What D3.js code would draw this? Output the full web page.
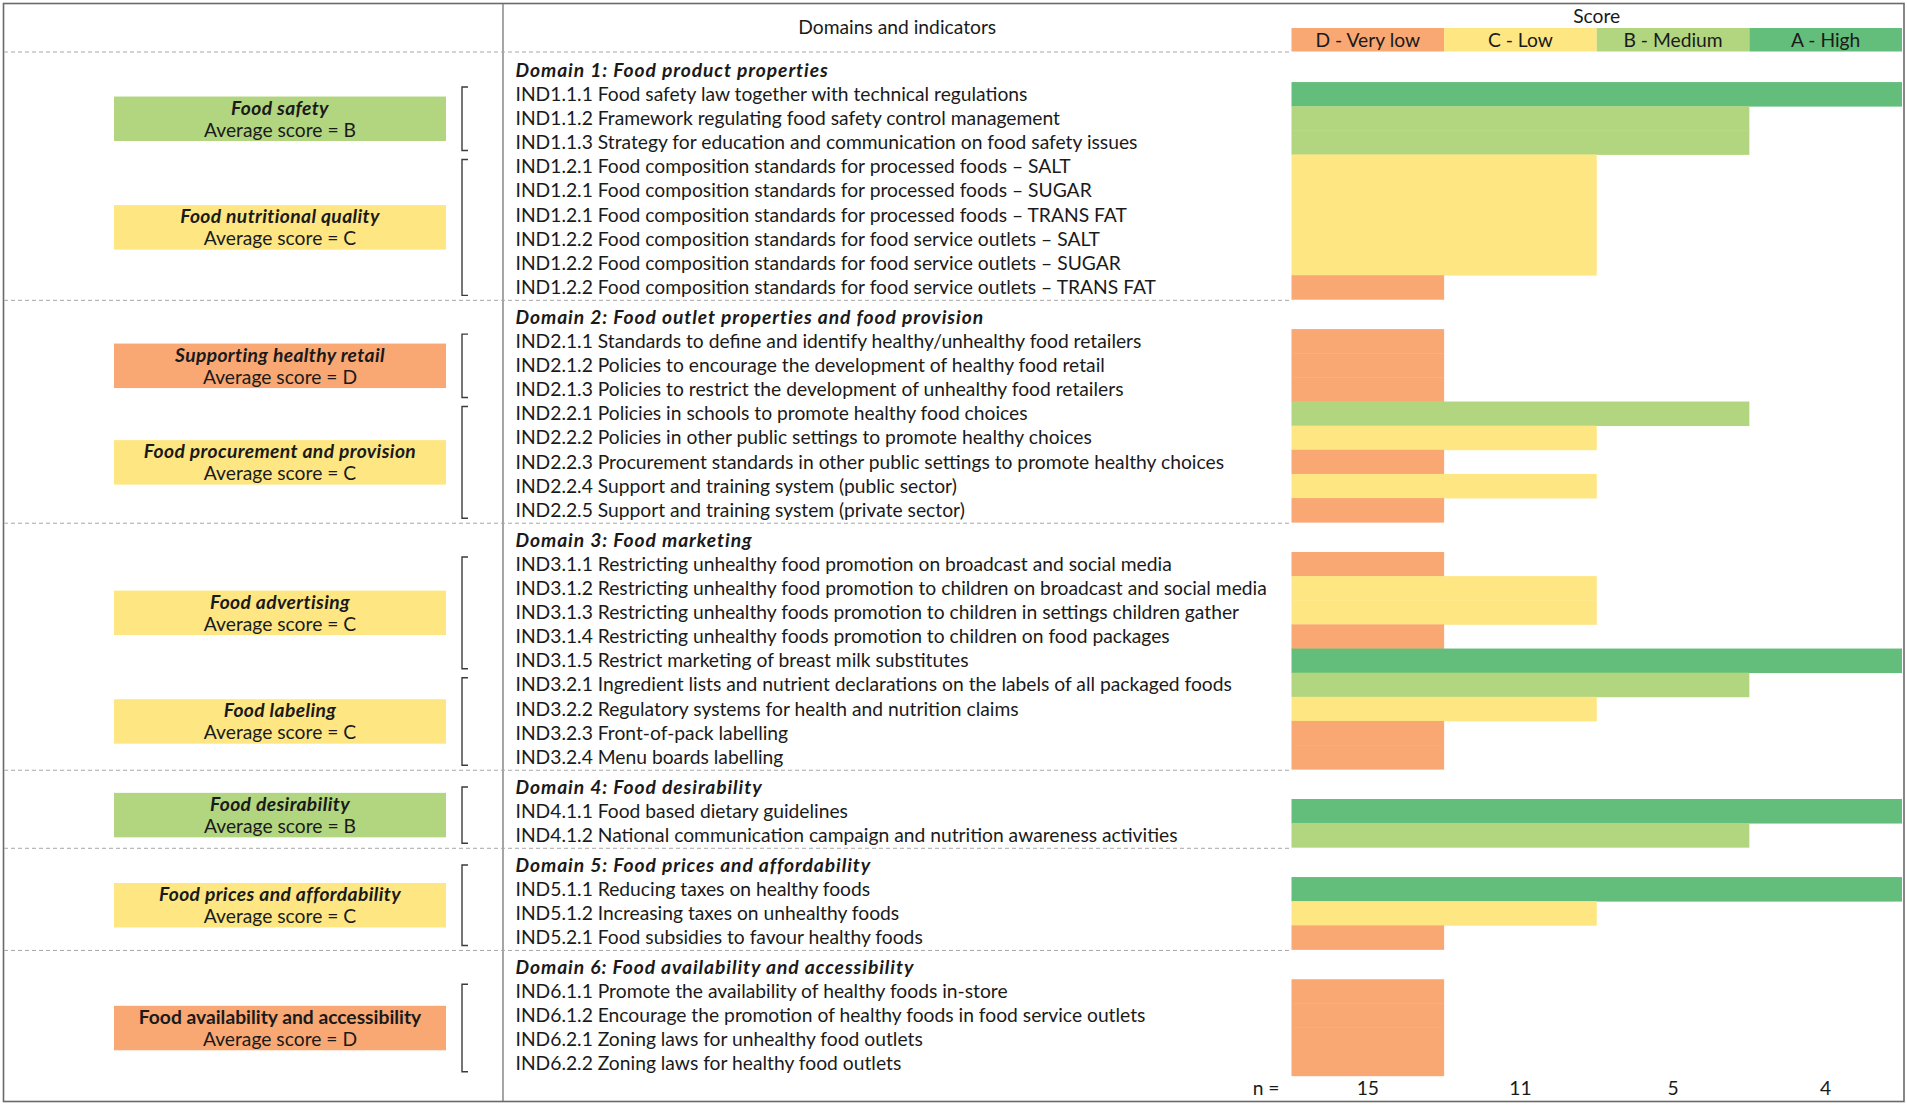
<!DOCTYPE html>
<html>
<head>
<meta charset="utf-8">
<script src="https://cdn.jsdelivr.net/npm/d3@7"></script>
<style>
  body { margin: 0; background: #fff; }
  svg { display: block; }
</style>
</head>
<body>
<svg id="chart" width="1907" height="1106"></svg>
<script>
// ---------------- DATA ----------------
const scoreLevels = ["D", "C", "B", "A"];
const scoreLabels = ["D - Very low", "C - Low", "B - Medium", "A - High"];
const scoreColors = ["#F9A874", "#FEE783", "#B2D67F", "#63BE7B"];

const domains = [
  "Domain 1: Food product properties",
  "Domain 2: Food outlet properties and food provision",
  "Domain 3: Food marketing",
  "Domain 4: Food desirability",
  "Domain 5: Food prices and affordability",
  "Domain 6: Food availability and accessibility"
];

const groups = [
  "Food safety",
  "Food nutritional quality",
  "Supporting healthy retail",
  "Food procurement and provision",
  "Food advertising",
  "Food labeling",
  "Food desirability",
  "Food prices and affordability",
  "Food availability and accessibility"
];
const groupScores = ["B", "C", "D", "C", "C", "C", "B", "C", "D"];
const groupDomain = [0, 0, 1, 1, 2, 2, 3, 4, 5];
// whether the bracket of a group also spans its domain header line
const groupBracketFromHeader = [false, false, false, false, false, false, true, true, false];
// whether the group title is set in italics
const groupTitleItalic = [true, true, true, true, true, true, true, true, false];

const indicators = [
  "IND1.1.1 Food safety law together with technical regulations",
  "IND1.1.2 Framework regulating food safety control management",
  "IND1.1.3 Strategy for education and communication on food safety issues",
  "IND1.2.1 Food composition standards for processed foods \u2013 SALT",
  "IND1.2.1 Food composition standards for processed foods \u2013 SUGAR",
  "IND1.2.1 Food composition standards for processed foods \u2013 TRANS FAT",
  "IND1.2.2 Food composition standards for food service outlets \u2013 SALT",
  "IND1.2.2 Food composition standards for food service outlets \u2013 SUGAR",
  "IND1.2.2 Food composition standards for food service outlets \u2013 TRANS FAT",
  "IND2.1.1 Standards to define and identify healthy/unhealthy food retailers",
  "IND2.1.2 Policies to encourage the development of healthy food retail",
  "IND2.1.3 Policies to restrict the development of unhealthy food retailers",
  "IND2.2.1 Policies in schools to promote healthy food choices",
  "IND2.2.2 Policies in other public settings to promote healthy choices",
  "IND2.2.3 Procurement standards in other public settings to promote healthy choices",
  "IND2.2.4 Support and training system (public sector)",
  "IND2.2.5 Support and training system (private sector)",
  "IND3.1.1 Restricting unhealthy food promotion on broadcast and social media",
  "IND3.1.2 Restricting unhealthy food promotion to children on broadcast and social media",
  "IND3.1.3 Restricting unhealthy foods promotion to children in settings children gather",
  "IND3.1.4 Restricting unhealthy foods promotion to children on food packages",
  "IND3.1.5 Restrict marketing of breast milk substitutes",
  "IND3.2.1 Ingredient lists and nutrient declarations on the labels of all packaged foods",
  "IND3.2.2 Regulatory systems for health and nutrition claims",
  "IND3.2.3 Front-of-pack labelling",
  "IND3.2.4 Menu boards labelling",
  "IND4.1.1 Food based dietary guidelines",
  "IND4.1.2 National communication campaign and nutrition awareness activities",
  "IND5.1.1 Reducing taxes on healthy foods",
  "IND5.1.2 Increasing taxes on unhealthy foods",
  "IND5.2.1 Food subsidies to favour healthy foods",
  "IND6.1.1 Promote the availability of healthy foods in-store",
  "IND6.1.2 Encourage the promotion of healthy foods in food service outlets",
  "IND6.2.1 Zoning laws for unhealthy food outlets",
  "IND6.2.2 Zoning laws for healthy food outlets"
];
const indicatorScores = [
  "A", "B", "B", "C", "C", "C", "C", "C", "D",
  "D", "D", "D", "B", "C", "D", "C", "D",
  "D", "C", "C", "D", "A", "B", "C", "D", "D",
  "A", "B",
  "A", "C", "D",
  "D", "D", "D", "D"
];
const indicatorGroup = [
  0, 0, 0, 1, 1, 1, 1, 1, 1,
  2, 2, 2, 3, 3, 3, 3, 3,
  4, 4, 4, 4, 4, 5, 5, 5, 5,
  6, 6,
  7, 7, 7,
  8, 8, 8, 8
];

const headerTitle = "Domains and indicators";
const scoreTitle = "Score";
const nLabel = "n =";
const avgPrefix = "Average score = ";

// ---------------- LAYOUT ----------------
const FONT = "Lato, 'Open Sans', 'DejaVu Sans', sans-serif";
const TXT = "#1a1a1a";
const rowH = 24.14;
const gapRatio = 0.233;

const svg = d3.select("#chart");

function measure(str, size, weight, style) {
  const t = svg.append("text").attr("font-family", FONT).attr("font-size", size)
    .attr("font-weight", weight).attr("font-style", style).text(str);
  const w = t.node().getComputedTextLength();
  t.remove();
  return w;
}
// fit font size so indicator text widths resemble the reference
const fs = Math.max(13, Math.min(20, 100 * 512 / measure(indicators[0], 100, 400, "normal")));
// letter spacing so bold italic headers are as wide as in the reference
const wDom = measure(domains[0], fs, 700, "italic");
const lsDom = Math.max(0, Math.min(1.5, (313 - wDom) / domains[0].length));

// build rows: header rows + indicator rows with slot positions
const rows = [];
let rowIdx = 0;
domains.forEach((dName, d) => {
  rows.push({ type: "domain", text: dName, slot: rowIdx + d * gapRatio, domain: d });
  rowIdx++;
  indicators.forEach((ind, i) => {
    if (groupDomain[indicatorGroup[i]] === d) {
      rows.push({ type: "ind", text: ind, score: indicatorScores[i], group: indicatorGroup[i], slot: rowIdx + d * gapRatio, domain: d, i });
      rowIdx++;
    }
  });
});
const nSlot = rowIdx + (domains.length - 1) * gapRatio;

const y = d3.scaleLinear().domain([0, 1]).range([70, 70 + rowH]);
const x = d3.scaleLinear().domain([0, scoreLevels.length]).range([1291.5, 1902]);
const colorOf = d3.scaleOrdinal().domain(scoreLevels).range(scoreColors);
const scoreValue = s => scoreLevels.indexOf(s) + 1;

// ---------------- FRAME ----------------
svg.append("rect").attr("x", 3.5).attr("y", 3.5).attr("width", 1900.5).attr("height", 1098)
  .attr("fill", "none").attr("stroke", "#6a6a6a").attr("stroke-width", 1.6);
svg.append("line").attr("x1", 503).attr("x2", 503).attr("y1", 4).attr("y2", 1102)
  .attr("stroke", "#6a6a6a").attr("stroke-width", 1.2);

// dashed separators
const dashYs = [52];
domains.forEach((d, di) => {
  if (di < domains.length - 1) {
    const last = rows.filter(r => r.domain === di).slice(-1)[0];
    dashYs.push(y(last.slot) + rowH / 2 + 1);
  }
});
svg.append("g").selectAll("line").data(dashYs).join("line")
  .attr("x1", 4).attr("x2", x(0)).attr("y1", d => d).attr("y2", d => d)
  .attr("stroke", "#a8a8a8").attr("stroke-width", 1).attr("stroke-dasharray", "4,3");

// ---------------- HEADER ----------------
svg.append("text").attr("x", (503 + x(0)) / 2).attr("y", 27).attr("dy", "0.35em")
  .attr("text-anchor", "middle").attr("font-family", FONT).attr("font-size", fs).attr("fill", TXT)
  .text(headerTitle);
svg.append("text").attr("x", (x(0) + x(4)) / 2).attr("y", 16).attr("dy", "0.35em")
  .attr("text-anchor", "middle").attr("font-family", FONT).attr("font-size", fs).attr("fill", TXT)
  .text(scoreTitle);

const legend = svg.append("g");
legend.selectAll("rect").data(scoreLevels).join("rect")
  .attr("x", (d, i) => x(i)).attr("width", (d, i) => x(i + 1) - x(i))
  .attr("y", 28).attr("height", 23.5).attr("fill", d => colorOf(d));
legend.selectAll("text").data(scoreLabels).join("text")
  .attr("x", (d, i) => (x(i) + x(i + 1)) / 2).attr("y", 40).attr("dy", "0.35em")
  .attr("text-anchor", "middle").attr("font-family", FONT).attr("font-size", fs).attr("fill", TXT)
  .text(d => d);

// ---------------- BARS ----------------
const indRows = rows.filter(r => r.type === "ind");
svg.append("g").selectAll("rect").data(indRows).join("rect")
  .attr("x", x(0))
  .attr("y", r => y(r.slot) - rowH / 2)
  .attr("width", r => x(scoreValue(r.score)) - x(0))
  .attr("height", rowH + 0.4)
  .attr("fill", r => colorOf(r.score));

// ---------------- ROW TEXT ----------------
svg.append("g").selectAll("text").data(rows).join("text")
  .attr("x", 515.5).attr("y", r => y(r.slot)).attr("dy", "0.35em")
  .attr("font-family", FONT).attr("font-size", fs).attr("fill", TXT)
  .attr("font-weight", r => r.type === "domain" ? 700 : 400)
  .attr("font-style", r => r.type === "domain" ? "italic" : "normal")
  .attr("letter-spacing", r => r.type === "domain" ? lsDom : 0)
  .text(r => r.text);

// n counts
const counts = d3.rollup(indicatorScores, v => v.length, s => s);
svg.append("text").attr("x", x(0) - 12).attr("y", y(nSlot)).attr("dy", "0.35em")
  .attr("text-anchor", "end").attr("font-family", FONT).attr("font-size", fs).attr("fill", TXT)
  .text(nLabel);
svg.append("g").selectAll("text").data(scoreLevels).join("text")
  .attr("x", (d, i) => (x(i) + x(i + 1)) / 2).attr("y", y(nSlot)).attr("dy", "0.35em")
  .attr("text-anchor", "middle").attr("font-family", FONT).attr("font-size", fs).attr("fill", TXT)
  .text(d => counts.get(d) || 0);

// ---------------- LEFT PANEL ----------------
const groupInfo = groups.map((g, gi) => {
  const gr = indRows.filter(r => r.group === gi);
  const header = rows.find(r => r.type === "domain" && r.domain === groupDomain[gi]);
  const top = groupBracketFromHeader[gi] ? y(header.slot) : y(gr[0].slot) - rowH / 2 + 5;
  const bottom = y(gr[gr.length - 1].slot) + rowH / 2 - 4;
  return { name: g, score: groupScores[gi], top, bottom, cy: (top + bottom) / 2, gi };
});

const bx = 462;
svg.append("g").selectAll("path").data(groupInfo).join("path")
  .attr("d", g => `M${bx + 6},${g.top} L${bx},${g.top} L${bx},${g.bottom} L${bx + 6},${g.bottom}`)
  .attr("fill", "none").attr("stroke", "#3c3c3c").attr("stroke-width", 1.4);

const boxW = 332, boxH = 44.5, boxX = 114;
const gBoxes = svg.append("g").selectAll("g").data(groupInfo).join("g");
gBoxes.append("rect").attr("x", boxX).attr("y", g => g.cy - boxH / 2)
  .attr("width", boxW).attr("height", boxH).attr("fill", g => colorOf(g.score));
gBoxes.append("text").attr("x", boxX + boxW / 2).attr("y", g => g.cy - 11).attr("dy", "0.35em")
  .attr("text-anchor", "middle").attr("font-family", FONT).attr("font-size", fs).attr("fill", TXT)
  .attr("font-weight", 700)
  .attr("font-style", g => groupTitleItalic[g.gi] ? "italic" : "normal")
  .attr("letter-spacing", g => groupTitleItalic[g.gi] ? lsDom * 0.4 : 0)
  .text(g => g.name);
gBoxes.append("text").attr("x", boxX + boxW / 2).attr("y", g => g.cy + 11).attr("dy", "0.35em")
  .attr("text-anchor", "middle").attr("font-family", FONT).attr("font-size", fs).attr("fill", TXT)
  .text(g => avgPrefix + g.score);
</script>
</body>
</html>
